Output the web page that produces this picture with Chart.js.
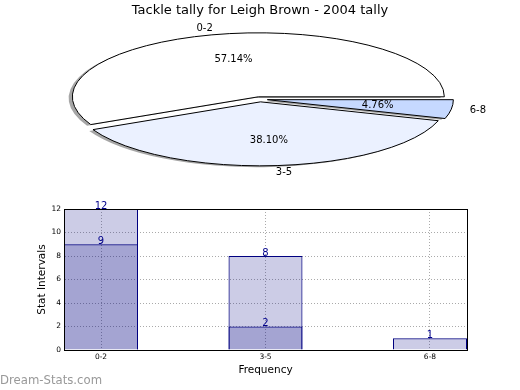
<!DOCTYPE html>
<html>
<head>
<meta charset="utf-8">
<script src="https://cdn.jsdelivr.net/npm/chart.js@4.4.1/dist/chart.umd.min.js"></script>
<style>
    body { margin: 0; background: #fff; }
    #page { position: relative; width: 520px; height: 390px; overflow: hidden; }
    #pieBox { position: absolute; left: 0; top: 0; width: 520px; height: 180px; }
    #barBox { position: absolute; left: 0; top: 190px; width: 520px; height: 200px; }
    #mark { position: absolute; left: 0; top: 373px; font: 11.7px "DejaVu Sans"; color: #999; white-space: nowrap; }
</style>
</head>
<body>
<div id="page">
    <div id="pieBox"><canvas id="pieChart"></canvas></div>
    <div id="barBox"><canvas id="barChart"></canvas></div>
    <div id="mark">Dream-Stats.com</div>
</div>
<script>
const categories = ["0-2", "3-5", "6-8"];
const totalCounts = [12, 8, 1];
const innerCounts = [9, 2, 0];
const yTicks = [0, 2, 4, 6, 8, 10, 12];
const pieColors = ["#ffffff", "#ebf1ff", "#c6d9ff"];

const chartTitle = "Tackle tally for Leigh Brown - 2004 tally";
const squash = 0.344;      // pie is drawn flattened
const explodeFrac = 0.04;
const barWidth = 0.45;
const barFill = "rgba(0,0,128,0.2)";
const barEdge = "#000080";

Chart.defaults.font.family = "'DejaVu Sans', sans-serif";
Chart.defaults.color = "#000";

// pie order is reversed so clockwise drawing matches the counter-clockwise original
const pieLabels = categories.slice().reverse();
const pieValues = totalCounts.slice().reverse();
const pieFill = pieColors.slice().reverse();

function explodeShift(arc) {
    const mid = (arc.startAngle + arc.endAngle) / 2;
    const e = explodeFrac * arc.outerRadius;
    return [Math.cos(mid) * e, Math.sin(mid) * e];
}

function squashed(ctx, arc) {
    const [dx, dy] = explodeShift(arc);
    ctx.translate(arc.x, arc.y);
    ctx.scale(1, squash);
    ctx.translate(-arc.x + dx, -arc.y + dy);
}

const flatPie = {
    id: "flatPie",
    beforeDatasetsDraw(chart) {
        const ctx = chart.ctx;
        const arcs = chart.getDatasetMeta(0).data;

        // shadows first, so every wedge sits above every shadow
        arcs.forEach(arc => {
            ctx.save();
            ctx.shadowColor = "rgba(77,77,77,0.5)";
            ctx.shadowOffsetX = -3.7;
            ctx.shadowOffsetY = 1.3;
            squashed(ctx, arc);
            arc.draw(ctx);
            ctx.restore();
        });

        arcs.forEach(arc => {
            ctx.save();
            squashed(ctx, arc);
            arc.draw(ctx);
            ctx.beginPath();
            ctx.moveTo(arc.x, arc.y);
            ctx.arc(arc.x, arc.y, arc.outerRadius, arc.startAngle, arc.endAngle);
            ctx.closePath();
            ctx.restore();
            ctx.save();
            ctx.lineWidth = 1;
            ctx.strokeStyle = "#000";
            ctx.stroke();
            ctx.restore();
        });
        return false;
    },
    afterDraw(chart) {
        const ctx = chart.ctx;
        const arcs = chart.getDatasetMeta(0).data;
        const values = chart.data.datasets[0].data;
        const total = values.reduce((a, b) => a + b, 0);

        ctx.save();
        ctx.font = "10px 'DejaVu Sans'";
        ctx.fillStyle = "#000";
        ctx.textBaseline = "middle";
        arcs.forEach((arc, i) => {
            const mid = (arc.startAngle + arc.endAngle) / 2;
            const r = arc.outerRadius;
            const e = explodeFrac * r;
            const at = d => [arc.x + Math.cos(mid) * (e + d), arc.y + Math.sin(mid) * (e + d) * squash];

            let [px, py] = at(0.6 * r);
            ctx.textAlign = "center";
            ctx.fillText((values[i] / total * 100).toFixed(2) + "%", px, py);

            [px, py] = at(1.1 * r);
            ctx.textAlign = Math.cos(mid) >= 0 ? "left" : "right";
            ctx.fillText(chart.data.labels[i], px, py);
        });
        ctx.restore();
    }
};

new Chart(document.getElementById("pieChart"), {
    type: "pie",
    data: {
        labels: pieLabels,
        datasets: [{
            data: pieValues,
            backgroundColor: pieFill,
            borderWidth: 0,
            hoverOffset: 0,
            rotation: 90,
            radius: 186
        }]
    },
    options: {
        animation: false,
        responsive: true,
        maintainAspectRatio: false,
        layout: { padding: 0 },
        plugins: {
            legend: { display: false },
            tooltip: { enabled: false },
            title: {
                display: true,
                text: chartTitle,
                font: { size: 13, weight: "normal" },
                padding: { top: 3, bottom: 0 }
            }
        }
    },
    plugins: [flatPie]
});

const barFrame = {
    id: "barFrame",
    afterDatasetsDraw(chart) {
        const ctx = chart.ctx;
        const a = chart.chartArea;

        ctx.save();
        ctx.font = "10px 'DejaVu Sans'";
        ctx.fillStyle = "#00008b";
        ctx.textAlign = "center";
        ctx.textBaseline = "alphabetic";
        chart.data.datasets.forEach((ds, di) => {
            chart.getDatasetMeta(di).data.forEach((bar, i) => {
                const v = ds.data[i].y;
                if (!v) return;
                ctx.fillText(String(v), bar.x, bar.y - 0.5);
            });
        });

        ctx.strokeStyle = "#000";
        ctx.lineWidth = 1;
        ctx.strokeRect(a.left + 0.5, a.top + 0.5, a.right - a.left, a.bottom - a.top);
        ctx.restore();
    }
};

new Chart(document.getElementById("barChart"), {
    type: "bar",
    data: {
        datasets: [
            {
                label: "inner",
                data: innerCounts.map((v, i) => ({ x: i + barWidth / 2, y: v })),
                backgroundColor: barFill,
                borderColor: barEdge,
                borderWidth: 1,
                order: 0
            },
            {
                label: "total",
                data: totalCounts.map((v, i) => ({ x: i + barWidth / 2, y: v })),
                backgroundColor: barFill,
                borderColor: barEdge,
                borderWidth: 1,
                order: 1
            }
        ]
    },
    options: {
        animation: false,
        responsive: true,
        maintainAspectRatio: false,
        layout: { padding: { left: 0, right: 53, top: 19, bottom: 0 } },
        datasets: {
            bar: {
                grouped: false,
                categoryPercentage: 1,
                barPercentage: barWidth
            }
        },
        plugins: {
            colors: { enabled: false },
            legend: { display: false },
            tooltip: { enabled: false }
        },
        scales: {
            x: {
                type: "linear",
                min: 0,
                max: categories.length - 1 + barWidth,
                offset: false,
                afterBuildTicks: s => { s.ticks = categories.map((c, i) => ({ value: i + barWidth / 2 })); },
                afterFit: s => { s.height = 40; },
                ticks: {
                    callback: (v, i) => categories[i],
                    font: { size: 7.5 },
                    padding: 3,
                    maxRotation: 0,
                    autoSkip: false
                },
                grid: { offset: false, color: "#aaa", drawTicks: false },
                border: { display: true, color: "#000", dash: [1, 2] },
                title: {
                    display: true,
                    text: "Frequency",
                    font: { size: 10.5 },
                    padding: { top: 0, bottom: 13.4 }
                }
            },
            y: {
                min: 0,
                max: 12,
                afterBuildTicks: s => { s.ticks = yTicks.map(v => ({ value: v })); },
                afterFit: s => { s.width = 64; },
                ticks: { font: { size: 7.5 }, padding: 3 },
                grid: { color: "#aaa", drawTicks: false },
                border: { display: true, color: "#000", dash: [1, 2] },
                title: {
                    display: true,
                    text: "Stat Intervals",
                    font: { size: 10.5 },
                    padding: { top: 36.2, bottom: 0 }
                }
            }
        }
    },
    plugins: [barFrame]
});
</script>
</body>
</html>
